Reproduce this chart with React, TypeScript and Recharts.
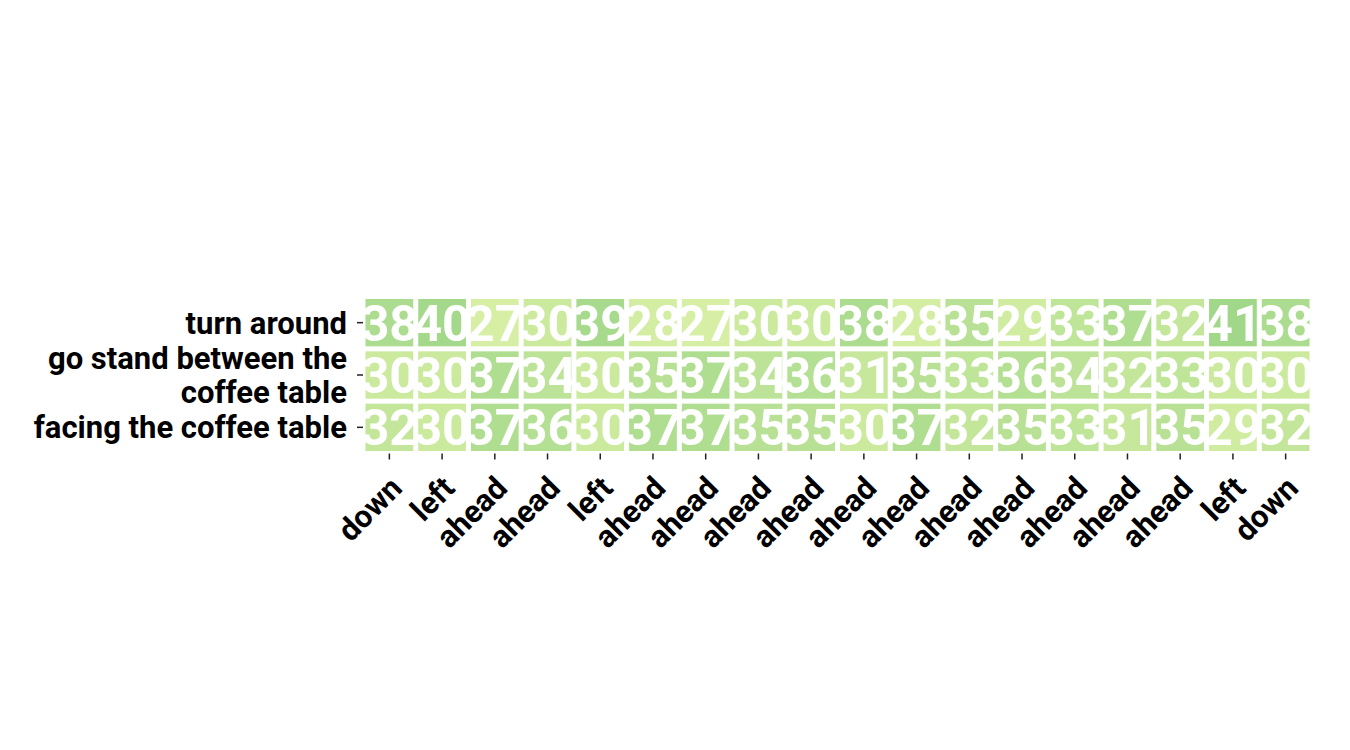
import { ScatterChart, Scatter, XAxis, YAxis } from "recharts";

const xLabels = ["down", "left", "ahead", "ahead", "left", "ahead", "ahead", "ahead", "ahead", "ahead", "ahead", "ahead", "ahead", "ahead", "ahead", "ahead", "left", "down"];
const yLabels = ["turn around", "go stand between the\ncoffee table", "facing the coffee table"];

const turnAround = [38, 40, 27, 30, 39, 28, 27, 30, 30, 38, 28, 35, 29, 33, 37, 32, 41, 38];
const goStand = [30, 30, 37, 34, 30, 35, 37, 34, 36, 31, 35, 33, 36, 34, 32, 33, 30, 30];
const facing = [32, 30, 37, 36, 30, 37, 37, 35, 35, 30, 37, 32, 35, 33, 31, 35, 29, 32];

const rows = [turnAround, goStand, facing];

// flatten into cells, row by row
const cells = rows.flatMap((vals, r) => vals.map((v, c) => ({ x: c, y: r, value: v })));

const W = 1334;
const H = 734;
const PLOT_W = 949;
const PLOT_H = 157;
const CELL_W = PLOT_W / xLabels.length;
const CELL_H = PLOT_H / yLabels.length;
const GAP = 5;

const vMin = 27;
const vMax = 41;
const lo = [215, 239, 164];
const hi = [160, 215, 137];

const cellColor = (v: number) => {
  const t = Math.max(0, Math.min(1, (v - vMin) / (vMax - vMin)));
  const c = lo.map((l, i) => Math.round(l + (hi[i] - l) * t));
  return `rgb(${c[0]},${c[1]},${c[2]})`;
};

const FONT = "Roboto, 'DejaVu Sans', sans-serif";

const Cell = (props: any) => {
  const { cx, cy, payload } = props;
  if (cx == null || cy == null) return null;
  return (
    <g>
      <rect
        x={cx - CELL_W / 2 + GAP / 2}
        y={cy - CELL_H / 2 + GAP / 2}
        width={CELL_W - GAP}
        height={CELL_H - GAP}
        fill={cellColor(payload.value)}
      />
      <text
        x={cx}
        y={cy}
        dy="0.36em"
        textAnchor="middle"
        fill="#ffffff"
        fontFamily={FONT}
        fontWeight="bold"
        fontSize={50}
      >
        {payload.value}
      </text>
    </g>
  );
};

const XTick = (props: any) => {
  const { x, y, payload } = props;
  const ax = x - 2;
  const ay = y + 12;
  return (
    <text
      x={ax}
      y={ay}
      transform={`rotate(-45, ${ax}, ${ay})`}
      textAnchor="end"
      dominantBaseline="hanging"
      fill="#000"
      fontFamily={FONT}
      fontWeight="bold"
      fontSize={31}
    >
      {xLabels[payload.value]}
    </text>
  );
};

const YTick = (props: any) => {
  const { x, y, payload } = props;
  const lines = yLabels[payload.value].split("\n");
  const lh = 34;
  const start = y - ((lines.length - 1) * lh) / 2;
  return (
    <text
      x={x}
      y={start}
      textAnchor="end"
      fill="#000"
      fontFamily={FONT}
      fontWeight="bold"
      fontSize={31}
    >
      {lines.map((l, i) => (
        <tspan key={i} x={x} y={start + i * lh} dy="0.35em">
          {l}
        </tspan>
      ))}
    </text>
  );
};

export default function App() {
  return (
    <div style={{ width: W, height: H }}>
      <ScatterChart width={W} height={H} margin={{ top: 288.5, right: 30, bottom: 188.5, left: 0 }}>
        <XAxis
          type="number"
          dataKey="x"
          domain={[-0.5, xLabels.length - 0.5]}
          ticks={xLabels.map((_, i) => i)}
          interval={0}
          axisLine={false}
          tickLine={{ stroke: "#222", strokeWidth: 1.5 }}
          tickSize={6}
          tick={<XTick />}
          height={100}
        />
        <YAxis
          type="number"
          dataKey="y"
          domain={[-0.5, yLabels.length - 0.5]}
          ticks={yLabels.map((_, i) => i)}
          reversed
          interval={0}
          axisLine={false}
          tickLine={{ stroke: "#222", strokeWidth: 1.5 }}
          tickSize={6}
          tickMargin={10}
          tick={<YTick />}
          width={355}
        />
        <Scatter data={cells} shape={<Cell />} isAnimationActive={false} />
      </ScatterChart>
    </div>
  );
}
